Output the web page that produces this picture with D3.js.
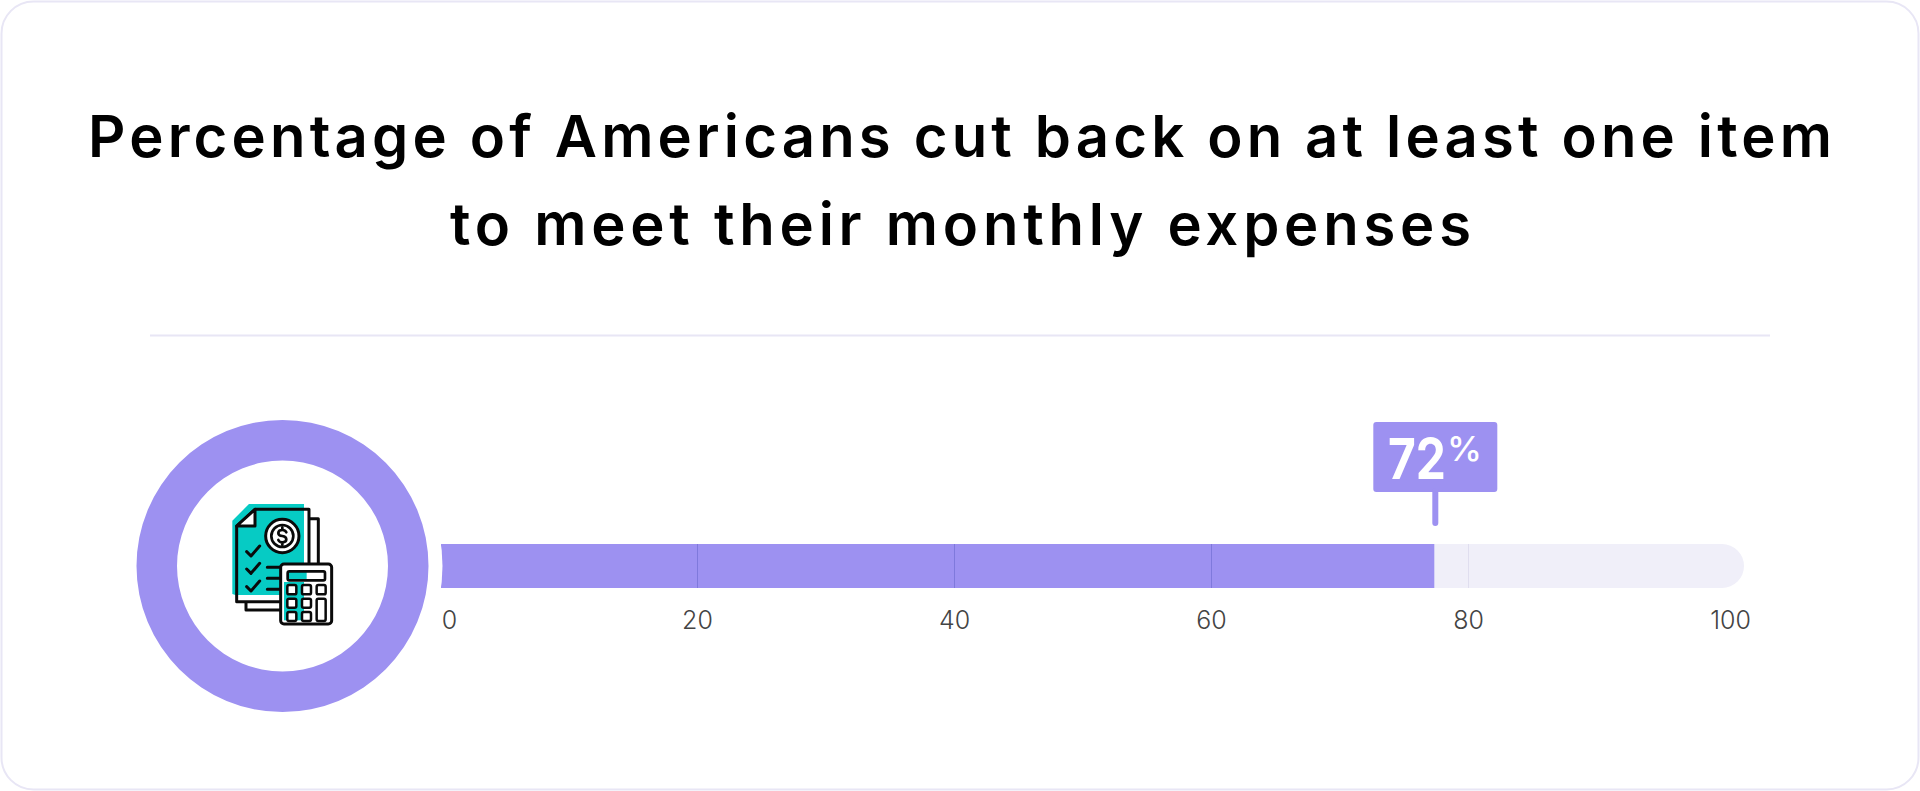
<!DOCTYPE html>
<html>
<head>
<meta charset="utf-8">
<script src="https://cdn.jsdelivr.net/npm/d3@7"></script>
<style>
html,body{margin:0;padding:0;background:#fff;}
svg{display:block;}
text{font-family:Inter,Lato,sans-serif;}
</style>
</head>
<body>
<svg id="chart" width="1920" height="791"></svg>
<script>
const titleLines = ["Percentage of Americans cut back on at least one item","to meet their monthly expenses"];
const axisDomain = [0, 100];
const tickValues = [0, 20, 40, 60, 80, 100];
const gridValues = [20, 40, 60, 80];
const barEndOnAxis = [77.3];       // where the filled bar stops, read against the printed axis
const calloutLabel = ["72", "%"];  // the label printed on the callout

const PURPLE = "#9d91f1", PALE = "#f0eff9", BORDER = "#e8e6f5", TEAL = "#06cbc4";

const svg = d3.select("#chart");

// card and divider
svg.append("rect").attr("x",1.5).attr("y",1.5).attr("width",1917).attr("height",788)
  .attr("rx",32).attr("fill","#fff").attr("stroke",BORDER).attr("stroke-width",2);
svg.append("line").attr("x1",150).attr("x2",1770).attr("y1",335.5).attr("y2",335.5)
  .attr("stroke",BORDER).attr("stroke-width",2);

// title
const titleSpans = [[88,1744,157],[450,1021,245]];
svg.selectAll("text.title").data(titleLines).join("text").attr("class","title")
  .attr("x",(d,i)=>titleSpans[i][0]).attr("y",(d,i)=>titleSpans[i][2])
  .attr("textLength",(d,i)=>titleSpans[i][1]).attr("lengthAdjust","spacing")
  .attr("font-size",58).attr("font-weight",600).attr("fill","#000").text(d=>d);

// scale
const x = d3.scaleLinear().domain(axisDomain).range([441, 1726]);
const barTop = 544, barH = 44, trackEnd = 1744;

// track, fill
svg.append("path").attr("fill",PALE)
  .attr("d",`M${x(0)},${barTop}H${trackEnd-barH/2}a${barH/2},${barH/2} 0 0 1 0,${barH}H${x(0)}Z`);
svg.selectAll("rect.fill").data(barEndOnAxis).join("rect").attr("class","fill")
  .attr("x",x(0)).attr("y",barTop).attr("height",barH)
  .attr("width",d=>x(d)-x(0)).attr("fill",PURPLE);

// grid ticks inside bar
svg.selectAll("line.grid").data(gridValues).join("line").attr("class","grid")
  .attr("x1",d=>x(d)-.5).attr("x2",d=>x(d)-.5).attr("y1",barTop).attr("y2",barTop+barH)
  .attr("stroke",d=>d<=barEndOnAxis[0]?"#7f79dc":"#e0deef").attr("stroke-width",1);

// axis labels
const axis = d3.axisBottom(x).tickValues(tickValues).tickSize(0).tickPadding(0).tickFormat(d3.format("d"));
const gAxis = svg.append("g").attr("transform",`translate(0,${barTop+barH})`).call(axis);
gAxis.select(".domain").remove();
gAxis.selectAll("text")
  .attr("y",41).attr("dy",0)
  .attr("dx",d=>d===0?8:d===100?4:-1)
  .attr("fill","#444").attr("font-size",25).attr("font-weight",300)
  .style("font-family","Inter,sans-serif");

// callout
const cx = x(barEndOnAxis[0]) + 1;
const callout = svg.append("g");
callout.append("rect").attr("x",cx-62).attr("y",422).attr("width",124).attr("height",70).attr("rx",3).attr("fill",PURPLE);
callout.append("rect").attr("x",cx-3).attr("y",488).attr("width",6).attr("height",38).attr("rx",3).attr("fill",PURPLE);
callout.append("text").attr("x",1388).attr("y",479).attr("textLength",58).attr("lengthAdjust","spacingAndGlyphs")
  .attr("font-size",56).attr("font-weight",700).attr("fill","#fff").text(calloutLabel[0]);
callout.append("text").attr("x",1447).attr("y",461).attr("textLength",35).attr("lengthAdjust","spacingAndGlyphs")
  .attr("font-size",34).attr("font-weight",500).attr("fill","#fff").text(calloutLabel[1]);

// donut with white halo cutting the bar's left end
const C = [282.5, 566];
svg.append("circle").attr("cx",C[0]).attr("cy",C[1]).attr("r",160).attr("fill","#fff");
svg.append("path").attr("transform",`translate(${C})`).attr("fill",PURPLE)
  .attr("d",d3.arc()({innerRadius:105.5,outerRadius:146,startAngle:0,endAngle:2*Math.PI}));

// icon (decorative), drawn in 3x units
const ic = svg.append("g").attr("transform","translate(210,490) scale(0.3333)")
  .attr("stroke-linejoin","round").attr("stroke-linecap","round");
const K = "#0a0a0a";
ic.append("path").attr("fill","none").attr("stroke",K).attr("stroke-width",9)
  .attr("d","M297 86H325V225M108 335V360H212");
ic.append("path").attr("fill","#fff").attr("stroke","none").attr("d","M80 108L135 58H297V335H80Z");
ic.append("path").attr("fill",TEAL).attr("d","M67 92L117 42H282V225H212V315H76L67 312Z");
ic.append("path").attr("fill","none").attr("stroke",K).attr("stroke-width",9)
  .attr("d","M297 225V58H135L80 108V335H212");
ic.append("path").attr("fill","#fff").attr("stroke",K).attr("stroke-width",9)
  .attr("d","M135 58V108H80Z");
ic.append("circle").attr("cx",217).attr("cy",138).attr("r",50).attr("fill","#fff").attr("stroke",K).attr("stroke-width",9);
ic.append("circle").attr("cx",217).attr("cy",138).attr("r",33).attr("fill","#fff").attr("stroke",K).attr("stroke-width",8);
ic.append("path").attr("fill","none").attr("stroke",K).attr("stroke-width",8)
  .attr("d","M229 127Q226 120 217 120Q205 120 205 129Q205 137 217 138Q229 140 229 148Q229 157 217 157Q208 157 205 150M217 112V120M217 157V165");
ic.append("path").attr("fill","none").attr("stroke",K).attr("stroke-width",9)
  .attr("d","M110 185L123 198L149 168M110 237L123 250L149 220M110 290L123 303L149 273M172 232H212M172 265H212M172 298H212");
ic.append("rect").attr("x",212).attr("y",222).attr("width",153).attr("height",180).attr("rx",10).attr("fill","#fff").attr("stroke",K).attr("stroke-width",9);
ic.append("rect").attr("x",222).attr("y",276).attr("width",60).attr("height",115).attr("fill",TEAL);
ic.append("rect").attr("x",233).attr("y",244).attr("width",112).attr("height",27).attr("rx",5).attr("fill","#fff").attr("stroke","none");
ic.append("rect").attr("x",233).attr("y",244).attr("width",57).attr("height",27).attr("fill",TEAL);
ic.append("rect").attr("x",233).attr("y",244).attr("width",112).attr("height",27).attr("rx",5).attr("fill","none").attr("stroke",K).attr("stroke-width",8);
[[232,285,27,28],[276,285,27,28],[320,285,27,28],[232,326,27,27],[276,326,27,27],[320,326,27,67],[232,366,27,27],[276,366,27,27]]
  .forEach(b=>ic.append("rect").attr("x",b[0]).attr("y",b[1]).attr("width",b[2]).attr("height",b[3]).attr("rx",5).attr("fill","#fff").attr("stroke",K).attr("stroke-width",7.5));
</script>
</body>
</html>
